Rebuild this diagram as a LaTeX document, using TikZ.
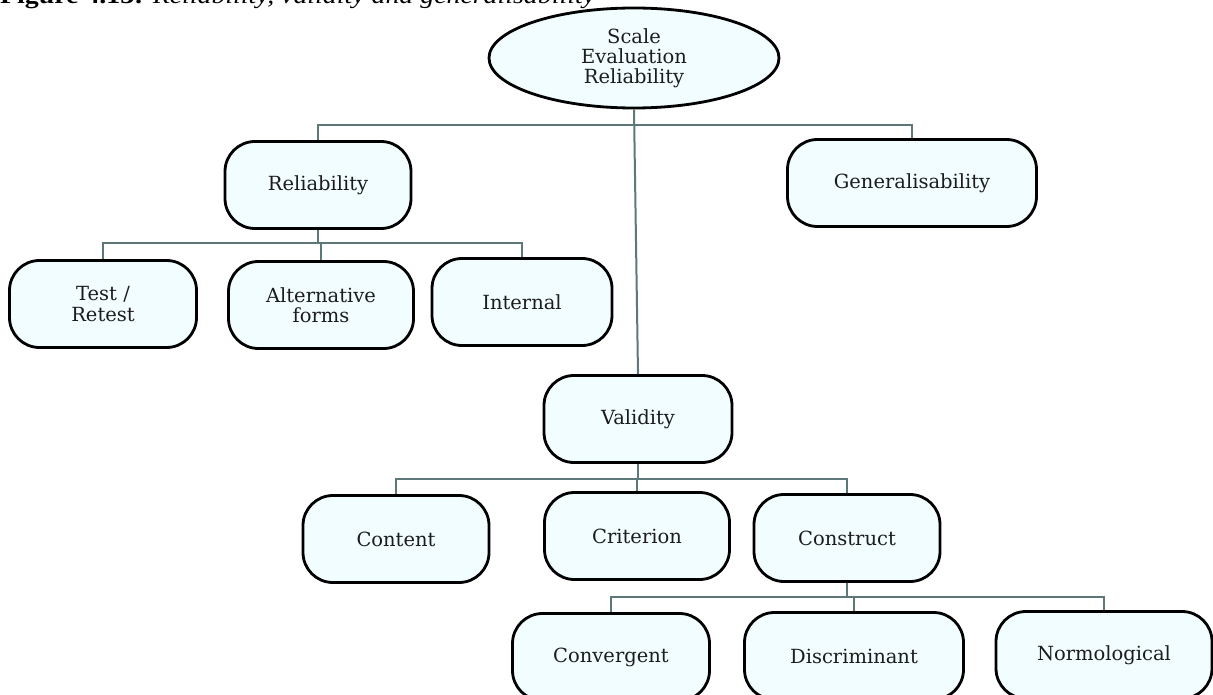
\documentclass[tikz,border=0pt]{standalone}
\usepackage{fontspec}
\setmainfont{DejaVu Serif}
\newfontfamily\capfont{Liberation Serif}
\usetikzlibrary{shapes.geometric}
\definecolor{boxfill}{RGB}{242,253,255}
\definecolor{linkcol}{RGB}{92,120,120}
\definecolor{labelcol}{RGB}{28,28,28}
\tikzset{
  box/.style={draw=black, line width=2.8pt, fill=boxfill, rounded corners=30pt,
    minimum height=87pt, align=center, inner sep=0pt, text=labelcol,
    font=\fontsize{19.5pt}{20.5pt}\selectfont},
  topnode/.style={ellipse, draw=black, line width=2.8pt, fill=boxfill,
    minimum width=290pt, minimum height=100pt, align=center, inner sep=0pt,
    text=labelcol, font=\fontsize{19.5pt}{20pt}\selectfont},
  link/.style={draw=linkcol, line width=2pt}
}
\begin{document}
\begin{tikzpicture}[x=1pt, y=-1pt]
\useasboundingbox (0,0) rectangle (1213,695);
\clip (0,0) rectangle (1213,695);

% caption, trimmed by the page top
\node[anchor=south west, inner sep=0pt] (cap) at (0,8.5)
  {\scalebox{1.16}[1]{\capfont\fontsize{24pt}{26pt}\selectfont\textbf{Figure 4.13:} \textit{Reliability, validity and generalisability}}};

% root
\node[topnode] (top) at (634,58) {Scale\\Evaluation\\Reliability};

% first level
\node[box, minimum width=186pt] (rel) at (318,185) {Reliability};
\node[box, minimum width=249pt] (gen) at (912,183) {Generalisability};
\node[box, minimum width=188pt] (val) at (638,419) {Validity};

% reliability branches
\node[box, minimum width=187pt] (tr)  at (103,304) {Test /\\Retest};
\node[box, minimum width=185pt] (alt) at (321,305) {Alternative\\forms};
\node[box, minimum width=180pt] (int) at (522,302) {Internal};

% validity branches
\node[box, minimum width=186pt] (cnt) at (396,539) {Content};
\node[box, minimum width=185pt] (cri) at (637,536) {Criterion};
\node[box, minimum width=186pt] (cns) at (847,538) {Construct};

% construct branches
\node[box, minimum width=197pt] (conv) at (611,657) {Convergent};
\node[box, minimum width=219pt] (dis)  at (854,656) {Discriminant};
\node[box, minimum width=216pt] (nor)  at (1104,655) {Normological};

% bar levels
\coordinate (b1) at (634,125);
\coordinate (b2) at (318,243);
\coordinate (b3) at (638,479);
\coordinate (b4) at (847,597);

\draw[link] (top.south) -- (val.north);
\draw[link] (rel.north) |- (b1) -| (gen.north);

\draw[link] (rel.south) -- (b2);
\draw[link] (tr.north) |- (b2) -| (int.north);
\draw[link] (alt.north) -- (alt.north |- b2);

\draw[link] (val.south) -- (b3);
\draw[link] (cnt.north) |- (b3) -| (cns.north);
\draw[link] (cri.north) -- (cri.north |- b3);

\draw[link] (cns.south) -- (b4);
\draw[link] (conv.north) |- (b4) -| (nor.north);
\draw[link] (dis.north) -- (dis.north |- b4);
\end{tikzpicture}
\end{document}
